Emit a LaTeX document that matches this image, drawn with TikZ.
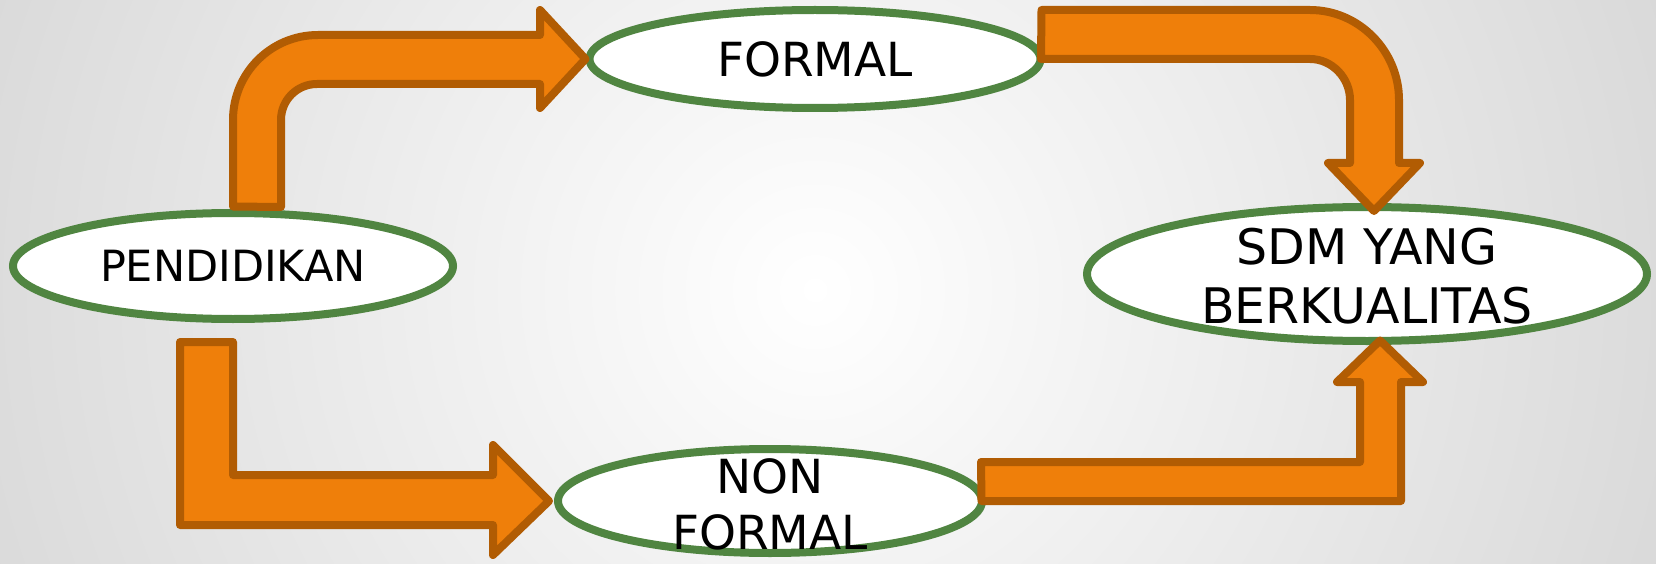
\documentclass[tikz,border=0pt]{standalone}
\usepackage{fontspec}
\setmainfont{DejaVu Sans}
\usetikzlibrary{shapes.geometric}
\definecolor{ellgreen}{HTML}{508541}
\definecolor{arrfill}{HTML}{EF7F0A}
\definecolor{arrline}{HTML}{B15C03}
\definecolor{bggray}{HTML}{B0B0B0}
\pgfdeclareradialshading{bgshade}{\pgfpoint{0bp}{0bp}}{color(0bp)=(white); color(50bp)=(bggray)}
\begin{document}
\begin{tikzpicture}[x=1pt,y=-1pt,
  ell/.style={ellipse, draw=ellgreen, line width=8pt, fill=white, inner sep=0pt},
  blockarrow/.style={fill=arrfill, draw=arrline, line width=8pt, line join=round},
  lbl/.style={inner sep=0pt, align=center, text=black}]
\useasboundingbox (0,0) rectangle (1656,564);
\begin{scope}
  \clip (0,0) rectangle (1656,564);
  \shade[shading=bgshade] (815,290) circle (930pt);
\end{scope}
% ellipses
\node[ell, minimum width=440pt, minimum height=106pt] (pend) at (233,266) {};
\node[ell, minimum width=451pt, minimum height=98pt] (formal) at (815,59) {};
\node[ell, minimum width=560pt, minimum height=134pt] (sdm) at (1367,274) {};
\node[ell, minimum width=424pt, minimum height=104pt] (nonf) at (770,501) {};
% arrow 1: PENDIDIKAN -> FORMAL
\draw[blockarrow] ([yshift=2.5pt]pend.north) -- (233,120) .. controls (233,73) and (271,35) .. (318,35)
  -- (540,35) -- (540,10) -- (formal.west) -- (540,108) -- (540,84) -- (317,84)
  .. controls (297,84) and (281,100) .. (281,120) -- (281,207) -- cycle;
% arrow 2: FORMAL -> SDM
\draw[blockarrow] ([xshift=-3pt,yshift=49pt]formal.east) -- (1310,10) .. controls (1359,10) and (1399,51) .. (1399,100)
  -- (1399,163) -- (1420,163) -- ([xshift=7pt,yshift=-8pt]sdm.north) -- (1328,163) -- (1350,163) -- (1350,100)
  .. controls (1350,78) and (1332,59) .. (1310,59) -- (1041,59) -- cycle;
% arrow 3: PENDIDIKAN -> NON FORMAL
\draw[blockarrow] (180,342) -- (233,342) -- (233,475) -- (493,475) -- (493,445)
  -- ([xshift=-5pt]nonf.west) -- (493,555) -- (493,525) -- (180,525) -- cycle;
% arrow 4: NON FORMAL -> SDM
\draw[blockarrow] ([xshift=-4.5pt]nonf.east) -- (981,462) -- (1360,462) -- (1360,382) -- (1337,382)
  -- ([xshift=13pt,yshift=4.5pt]sdm.south) -- (1423,382) -- (1401,382) -- (1401,501) -- cycle;
% labels
\node[lbl, font=\fontsize{43}{51}\selectfont] (pendtxt) at (pend) {PENDIDIKAN};
\node[lbl, font=\fontsize{47}{56}\selectfont] (formaltxt) at (formal) {FORMAL};
\node[lbl, font=\fontsize{49}{59}\selectfont] (sdmtxt) at ([yshift=-2pt]sdm) {SDM YANG\\BERKUALITAS};
\node[lbl, font=\fontsize{47}{56}\selectfont] (nonftxt) at ([yshift=-3pt]nonf) {NON\\FORMAL};
\end{tikzpicture}
\end{document}
